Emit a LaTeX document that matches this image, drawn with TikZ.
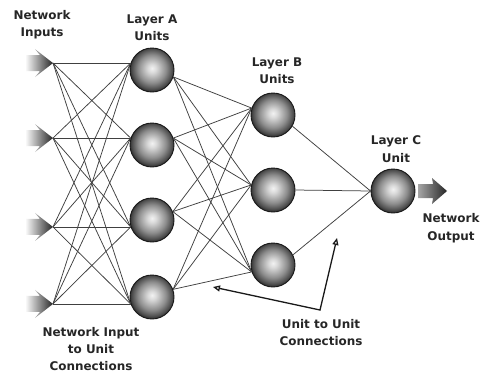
\documentclass[tikz,border=0pt]{standalone}
\usepackage{fontspec}
\setmainfont{DejaVu Sans}
\usetikzlibrary{arrows.meta}
\pgfdeclareradialshading{sphere}{\pgfpoint{0bp}{2bp}}{color(0bp)=(black!5); color(5bp)=(black!15); color(16bp)=(black!45); color(23bp)=(black!70); color(25bp)=(black!80); color(50bp)=(black!80)}
\begin{document}
\begin{tikzpicture}[x=1bp,y=-1bp,
  unit/.style={circle, minimum size=44bp, inner sep=0pt, draw=black!90, line width=0.9bp, shading=sphere},
  conn/.style={draw=black!75, line width=0.75bp},
  arrowfill/.style={left color=white, right color=black!85, draw=none},
  lbl/.style={font=\fontsize{12}{17.5}\selectfont\bfseries, align=center, text=black!85, inner sep=0pt},
  annot/.style={draw=black!90, line width=1.3bp, {Triangle[open,length=7bp,width=6bp]}-{Triangle[open,length=7bp,width=6bp]}}
]
\useasboundingbox[fill=white] (0,0) rectangle (483,376);

% units
\node[unit] (a1) at (152,70) {};
\node[unit] (a2) at (152,145) {};
\node[unit] (a3) at (152,220) {};
\node[unit] (a4) at (152,297) {};
\node[unit] (b1) at (273,115) {};
\node[unit] (b2) at (273,190) {};
\node[unit] (b3) at (273,265) {};
\node[unit] (c1) at (393,191) {};

% input ports
\coordinate (i1) at (53,0 |- a1.162);
\coordinate (i2) at (53,0 |- a2.162);
\coordinate (i3) at (53,0 |- a3.198);
\coordinate (i4) at (53,0 |- a4.198);
\coordinate (o1) at (447,191);

% connections
\foreach \s in {1,...,4}{
  \foreach \t/\ang in {1/162,2/162,3/198,4/198}{
    \draw[conn] (i\s) -- (a\t.\ang);
  }
}
\foreach \s/\oa in {1/342,2/18,3/22,4/20}{
  \foreach \t/\ia in {1/162,2/167,3/198}{
    \draw[conn] (a\s.\oa) -- (b\t.\ia);
  }
}
\foreach \s/\oa in {1/330,2/0,3/27}{
  \draw[conn] (b\s.\oa) -- (c1.180);
}

% input arrows
\foreach \k in {1,...,4}{
  \shade[arrowfill,shift={(i\k)}] (-28,-8) -- (-13,-8) -- (-18,-14) -- (0,0) -- (-18,14) -- (-13,8) -- (-28,8) -- cycle;
}
% output arrow
\shade[arrowfill,left color=black!35,shift={(o1)}] (-29,-7) -- (-14,-7) -- (-15,-13) -- (0,0) -- (-15,13) -- (-14,7) -- (-29,7) -- cycle;

% annotation arrow
\coordinate (u1) at (213,287);
\coordinate (uv) at (320,310);
\coordinate (u2) at (337,238);
\draw[annot] (u1) -- (uv) -- (u2);

% labels
\node[lbl] (lin) at (42,24.5) {Network\\Inputs};
\node[lbl] (la) at (152,28) {Layer A\\Units};
\node[lbl] (lb) at (277,71) {Layer B\\Units};
\node[lbl] (lc) at (396,149) {Layer C\\Unit};
\node[lbl] (lout) at (451,228) {Network\\Output};
\node[lbl] (lcon1) at (91,349) {Network Input\\to Unit\\Connections};
\node[lbl] (lcon2) at (321,332.5) {Unit to Unit\\Connections};
\end{tikzpicture}
\end{document}
